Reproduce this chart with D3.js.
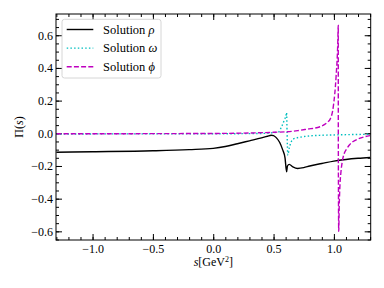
<!DOCTYPE html>
<html>
<head>
<meta charset="utf-8">
<script src="https://d3js.org/d3.v7.min.js"></script>
<style>
  body { margin: 0; background: #fff; }
  svg text { font-family: 'Liberation Serif', 'Times New Roman', serif; fill: #000; }
  .axis path { display: none; }
  .axis line { stroke: #000; stroke-width: 1; }
</style>
</head>
<body>
<svg width="384" height="288"></svg>
<script>
// rho solution
var sRho  = [-1.3, -1.0, -0.5, -0.2, 0.0, 0.1, 0.2, 0.3, 0.4, 0.45, 0.48, 0.5, 0.52, 0.55, 0.575, 0.595, 0.608, 0.615, 0.63, 0.66, 0.7, 0.75, 0.8, 0.9, 1.0, 1.1, 1.2, 1.3];
var piRho = [-0.116, -0.113, -0.107, -0.1, -0.092, -0.081, -0.064, -0.046, -0.028, -0.018, -0.012, -0.014, -0.025, -0.055, -0.1, -0.15, -0.235, -0.2, -0.19, -0.205, -0.215, -0.21, -0.2, -0.185, -0.17, -0.16, -0.153, -0.148];

// omega solution
var sOmega  = [-1.3, 0.0, 0.4, 0.5, 0.54, 0.567, 0.589, 0.605, 0.608, 0.612, 0.618, 0.63, 0.645, 0.663, 0.72, 0.8, 0.9, 1.0, 1.3];
var piOmega = [-0.004, -0.003, -0.001, 0.004, 0.008, 0.041, 0.081, 0.115, 0.128, 0.0, -0.133, -0.09, -0.055, -0.035, -0.024, -0.016, -0.012, -0.01, -0.006];

// phi solution
var sPhi  = [-1.3, 0.0, 0.5, 0.7, 0.774, 0.885, 0.95, 0.968, 0.995, 1.018, 1.032, 1.036, 1.0365, 1.04, 1.044, 1.05, 1.058, 1.07, 1.085, 1.106, 1.13, 1.16, 1.2, 1.25, 1.3];
var piPhi = [-0.003, -0.001, 0.006, 0.016, 0.025, 0.04, 0.07, 0.085, 0.163, 0.346, 0.55, 0.66, 0.0, -0.6, -0.45, -0.32, -0.24, -0.17, -0.125, -0.095, -0.07, -0.05, -0.035, -0.022, -0.014];

var xTicks = [-1.0, -0.5, 0.0, 0.5, 1.0];
var yTicks = [-0.6, -0.4, -0.2, 0.0, 0.2, 0.4, 0.6];

var margin = {top: 14, right: 13.3, bottom: 48, left: 56};
var width = 384 - margin.left - margin.right,
    height = 288 - margin.top - margin.bottom;

var serif = "'Liberation Serif', 'Times New Roman', serif";

var svg = d3.select("svg");
var g = svg.append("g")
    .attr("transform", "translate(" + margin.left + "," + margin.top + ")");

var x = d3.scaleLinear().domain([-1.303, 1.305]).range([0, width]);
var y = d3.scaleLinear().domain([-0.653, 0.73]).range([height, 0]);

var fmt = function (d) { return d3.format(".1f")(d).replace("-", "\u2212"); };

// minor ticks
var xMinor = d3.range(-13, 14).map(function (i) { return i / 10; });
var yMinor = d3.range(-13, 15).map(function (i) { return i / 20; });

function addAxis(axis, tr) {
    return g.append("g").attr("class", "axis").attr("transform", tr).call(axis)
        .attr("font-family", serif).attr("font-size", 12);
}

// bottom / top
addAxis(d3.axisBottom(x).tickValues(xMinor).tickSize(-3).tickFormat(""), "translate(0," + height + ")");
addAxis(d3.axisBottom(x).tickValues(xTicks).tickSize(-6).tickPadding(4.5).tickFormat(fmt), "translate(0," + height + ")");
addAxis(d3.axisTop(x).tickValues(xMinor).tickSize(-3).tickFormat(""), "translate(0,0)");
addAxis(d3.axisTop(x).tickValues(xTicks).tickSize(-6).tickFormat(""), "translate(0,0)");
// left / right
addAxis(d3.axisLeft(y).tickValues(yMinor).tickSize(-3).tickFormat(""), "translate(0,0)");
addAxis(d3.axisLeft(y).tickValues(yTicks).tickSize(-6).tickPadding(3).tickFormat(fmt), "translate(0,0)");
addAxis(d3.axisRight(y).tickValues(yMinor).tickSize(-3).tickFormat(""), "translate(" + width + ",0)");
addAxis(d3.axisRight(y).tickValues(yTicks).tickSize(-6).tickFormat(""), "translate(" + width + ",0)");

// clip
g.append("clipPath").attr("id", "clip")
    .append("rect").attr("width", width).attr("height", height);

var line = d3.line()
    .x(function (d) { return x(d[0]); })
    .y(function (d) { return y(d[1]); })
    .curve(d3.curveMonotoneX);

var series = [
    {s: sRho, v: piRho, color: "#000", dash: null, label: "Solution ", sym: "\u03c1"},
    {s: sOmega, v: piOmega, color: "#00bfbf", dash: "1.5,2.2", label: "Solution ", sym: "\u03c9"},
    {s: sPhi, v: piPhi, color: "#bf00bf", dash: "5,2.2", label: "Solution ", sym: "\u03d5"}
];

var plot = g.append("g").attr("clip-path", "url(#clip)");
series.forEach(function (sr) {
    plot.append("path")
        .datum(d3.zip(sr.s, sr.v))
        .attr("fill", "none")
        .attr("stroke", sr.color)
        .attr("stroke-width", 1.4)
        .attr("stroke-dasharray", sr.dash)
        .attr("d", line);
});

// frame
g.append("rect")
    .attr("width", width).attr("height", height)
    .attr("fill", "none").attr("stroke", "#000").attr("stroke-width", 1);

// legend
var leg = g.append("g").attr("transform", "translate(6,5.3)");
leg.append("rect")
    .attr("width", 99).attr("height", 58.7).attr("rx", 2.5)
    .attr("fill", "#fff").attr("fill-opacity", 0.8)
    .attr("stroke", "#ccc").attr("stroke-width", 0.8);
series.forEach(function (sr, i) {
    var yy = 10.2 + i * 18.6;
    leg.append("line")
        .attr("x1", 4.7).attr("x2", 31.3).attr("y1", yy).attr("y2", yy)
        .attr("stroke", sr.color).attr("stroke-width", 1.4)
        .attr("stroke-dasharray", sr.dash);
    var t = leg.append("text")
        .attr("x", 41).attr("y", yy + 4.2)
        .attr("font-family", serif)
        .attr("font-size", "12.5px");
    t.append("tspan").text(sr.label);
    t.append("tspan").attr("font-style", "italic").text(sr.sym);
});

// axis labels
var xl = svg.append("text")
    .attr("x", margin.left + width / 2).attr("y", 266)
    .attr("text-anchor", "middle")
    .attr("font-family", serif).attr("font-size", "12px");
xl.append("tspan").attr("font-style", "italic").text("s");
xl.append("tspan").text("[GeV");
xl.append("tspan").attr("font-size", "8px").attr("dy", "-4").text("2");
xl.append("tspan").attr("dy", "4").text("]");

var yl = svg.append("text")
    .attr("transform", "translate(23," + (margin.top + height / 2) + ") rotate(-90)")
    .attr("text-anchor", "middle")
    .attr("font-family", serif).attr("font-size", "12px");
yl.append("tspan").text("\u03a0(");
yl.append("tspan").attr("font-style", "italic").text("s");
yl.append("tspan").text(")");
</script>
</body>
</html>
